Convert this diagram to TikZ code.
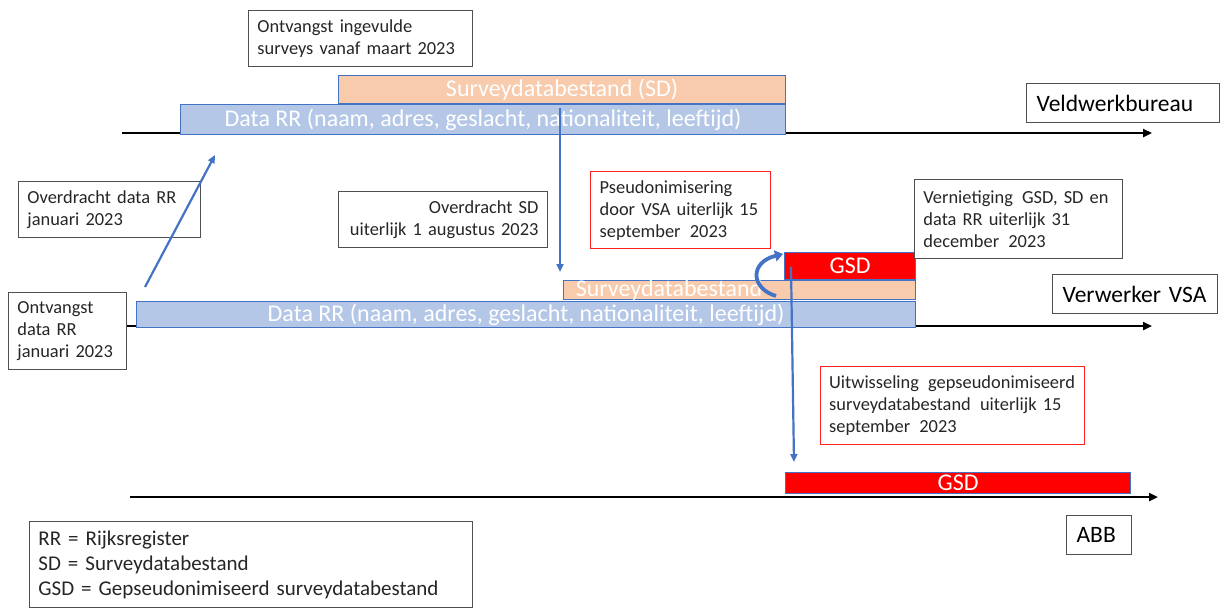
\documentclass[tikz,border=0pt]{standalone}
\usepackage{fontspec}
\setmainfont{Carlito}
\usetikzlibrary{arrows.meta}
\definecolor{bblue}{HTML}{4472C4}
\definecolor{rrfill}{HTML}{B4C7E7}
\definecolor{sdfill}{HTML}{F8CBAD}
\definecolor{gsdred}{HTML}{FF0000}
\definecolor{boxgray}{HTML}{505050}
\definecolor{notered}{HTML}{FF2020}
\definecolor{txt}{HTML}{262626}
\begin{document}
\begin{tikzpicture}[x=1pt,y=-1pt,
  barbox/.style={draw=bblue, line width=1.2pt, inner sep=0pt, anchor=north west},
  bartext/.style={text=white, inner sep=0pt, font=\fontsize{24}{26}\selectfont},
  note/.style={draw=boxgray, line width=0.9pt, fill=white, text=txt, anchor=north west, inner xsep=9pt, inner ysep=0pt, font=\fontsize{18.4}{22}\selectfont, align=left},
  rednote/.style={note, draw=notered, line width=1.3pt},
  lane/.style={draw=boxgray, line width=1.2pt, fill=white, text=black, anchor=north west, inner xsep=10pt, inner ysep=0pt, align=left, font=\fontsize{23.5}{26}\selectfont},
  timeline/.style={line width=2.8pt, -{Triangle[length=9pt,width=8pt]}},
  flow/.style={draw=bblue, line width=2.2pt, -{Triangle[length=8pt,width=7pt]}}
]
\useasboundingbox (0,0) rectangle (1224,608);

% timelines
\coordinate (t1s) at (122,133); \coordinate (t1e) at (1152,133);
\coordinate (t2s) at (124,326); \coordinate (t2e) at (1152,326);
\coordinate (t3s) at (130,497); \coordinate (t3e) at (1158,497);
\draw[timeline] (t1s) -- (t1e);
\draw[timeline] (t2s) -- (t2e);
\draw[timeline] (t3s) -- (t3e);

% bars Veldwerkbureau
\node[barbox, fill=sdfill, minimum width=447pt, minimum height=28pt] (sdtop) at (338,75) {};
\node[bartext] at (sdtop.center) {Surveydatabestand (SD)};
\node[barbox, fill=rrfill, minimum width=605pt, minimum height=30pt] (rrtop) at (180,104) {};
\node[bartext] at (rrtop.center) {Data RR (naam, adres, geslacht, nationaliteit, leeftijd)};

% bars Verwerker VSA
\node[barbox, fill=gsdred, minimum width=131pt, minimum height=27pt] (gsdvsa) at (784,252) {};
\node[bartext] at (gsdvsa.center) {GSD};
\node[barbox, fill=sdfill, minimum width=352pt, minimum height=19pt] (sdvsa) at (563,280) {};
\node[bartext, anchor=center] (sdvsatext) at (669,290) {Surveydatabestand};
\node[barbox, fill=rrfill, minimum width=779pt, minimum height=26pt] (rrvsa) at (136,301) {};
\node[bartext] at (rrvsa.center) {Data RR (naam, adres, geslacht, nationaliteit, leeftijd)};

% bar ABB
\node[barbox, fill=gsdred, minimum width=345pt, minimum height=21pt] (gsdabb) at (785,472) {};
\node[bartext] at (gsdabb.center) {GSD};

% lane labels
\node[lane, minimum width=193pt, minimum height=39pt, text width=173pt] (veld) at (1026,83) {Veldwerkbureau};
\node[lane, minimum width=165pt, minimum height=39pt, text width=145pt] (vsa) at (1052,274) {Verwerker VSA};
\node[lane, minimum width=65pt, minimum height=39pt, text width=45pt] (abb) at (1066,515) {ABB};

% notes
\node[note, minimum width=224pt, minimum height=56pt, text width=206pt] (recv) at (248,10) {Ontvangst ingevulde\\surveys vanaf maart 2023};
\node[note, minimum width=182pt, minimum height=56pt, text width=164pt] (overrr) at (18,181) {Overdracht data RR\\januari 2023};
\node[note, align=right, minimum width=209pt, minimum height=56pt, text width=191pt] (oversd) at (338,191) {Overdracht SD\\uiterlijk 1 augustus 2023};
\node[rednote, minimum width=180pt, minimum height=77pt, text width=162pt] (pseudo) at (590,171) {Pseudonimisering\\door VSA uiterlijk 15\\september\, 2023};
\node[note, minimum width=208pt, minimum height=79pt, text width=190pt] (vern) at (914,179) {Vernietiging\, GSD, SD en\\data RR uiterlijk 31\\december\, 2023};
\node[note, minimum width=118pt, minimum height=77pt, text width=100pt] (ontrr) at (8,292) {Ontvangst\\data RR\\januari 2023};
\node[rednote, minimum width=264pt, minimum height=78pt, text width=246pt] (uitw) at (819.5,365.5) {Uitwisseling\, gepseudonimiseerd\\surveydatabestand\, uiterlijk 15\\september\, 2023};
\node[note, minimum width=443pt, minimum height=86pt, text width=425pt, font=\fontsize{21}{25}\selectfont] (legend) at (29,521) {RR = Rijksregister\\SD = Surveydatabestand\\GSD = Gepseudonimiseerd surveydatabestand};

% flows
\coordinate (a1s) at (145,287); \coordinate (a1e) at (215,155);
\draw[flow] (a1s) -- (a1e);
\coordinate (a2s) at (560,108); \coordinate (a2e) at (560,272);
\draw[flow] (a2s) -- (a2e);
\coordinate (a3s) at (791,267); \coordinate (a3e) at (794,462);
\draw[flow] (a3s) -- (a3e);
\coordinate (cs) at (776,296); \coordinate (ce) at (783,254);
\draw[draw=bblue, line width=3.8pt, -{Triangle[length=8pt,width=11pt]}] (cs) .. controls (750,288) and (750,262) .. (ce);
\end{tikzpicture}
\end{document}
